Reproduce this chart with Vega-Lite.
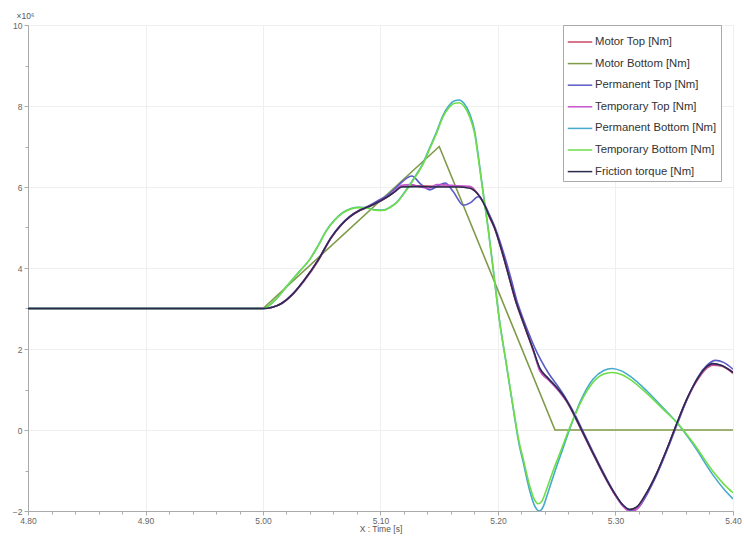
{
  "$schema": "https://vega.github.io/schema/vega-lite/v6.json",
  "width": 705,
  "height": 486,
  "autosize": {"type": "none"},
  "padding": {"left": 28, "top": 25, "right": 11, "bottom": 25},
  "background": "white",
  "config": {
    "font": "Liberation Sans",
    "view": {"stroke": "#e4e4e4"},
    "axis": {"domainColor": "#aaaaaa", "tickColor": "#aaaaaa", "labelColor": "#666666", "labelFontSize": 8.5, "titleColor": "#555555", "titleFontSize": 8.5, "titleFontWeight": "normal", "gridColor": "#efefef"}
  },
  "datasets": {
    "bottomMotor": [
      {"s": "Motor Bottom [Nm]", "t": 4.80, "v": 3},
      {"s": "Motor Bottom [Nm]", "t": 5.00, "v": 3},
      {"s": "Motor Bottom [Nm]", "t": 5.15, "v": 7},
      {"s": "Motor Bottom [Nm]", "t": 5.2485, "v": 0},
      {"s": "Motor Bottom [Nm]", "t": 5.40, "v": 0}
    ],
    "curves": [
      {"s": "Motor Top [Nm]", "t": 4.80, "v": 3},
      {"s": "Motor Top [Nm]", "t": 5.00, "v": 3},
      {"s": "Motor Top [Nm]", "t": 5.008, "v": 3.03},
      {"s": "Motor Top [Nm]", "t": 5.016, "v": 3.12},
      {"s": "Motor Top [Nm]", "t": 5.025, "v": 3.34},
      {"s": "Motor Top [Nm]", "t": 5.035, "v": 3.68},
      {"s": "Motor Top [Nm]", "t": 5.047, "v": 4.18},
      {"s": "Motor Top [Nm]", "t": 5.058, "v": 4.74},
      {"s": "Motor Top [Nm]", "t": 5.066, "v": 5.04},
      {"s": "Motor Top [Nm]", "t": 5.074, "v": 5.26},
      {"s": "Motor Top [Nm]", "t": 5.082, "v": 5.41},
      {"s": "Motor Top [Nm]", "t": 5.091, "v": 5.52},
      {"s": "Motor Top [Nm]", "t": 5.100, "v": 5.65},
      {"s": "Motor Top [Nm]", "t": 5.106, "v": 5.76},
      {"s": "Motor Top [Nm]", "t": 5.112, "v": 5.88},
      {"s": "Motor Top [Nm]", "t": 5.118, "v": 6.02},
      {"s": "Motor Top [Nm]", "t": 5.130, "v": 6.03},
      {"s": "Motor Top [Nm]", "t": 5.150, "v": 6.02},
      {"s": "Motor Top [Nm]", "t": 5.165, "v": 6.02},
      {"s": "Motor Top [Nm]", "t": 5.177, "v": 6.0},
      {"s": "Motor Top [Nm]", "t": 5.182, "v": 5.86},
      {"s": "Motor Top [Nm]", "t": 5.1875, "v": 5.62},
      {"s": "Motor Top [Nm]", "t": 5.192, "v": 5.3},
      {"s": "Motor Top [Nm]", "t": 5.197, "v": 4.98},
      {"s": "Motor Top [Nm]", "t": 5.2045, "v": 4.28},
      {"s": "Motor Top [Nm]", "t": 5.210, "v": 3.7},
      {"s": "Motor Top [Nm]", "t": 5.215, "v": 3.18},
      {"s": "Motor Top [Nm]", "t": 5.220, "v": 2.76},
      {"s": "Motor Top [Nm]", "t": 5.225, "v": 2.36},
      {"s": "Motor Top [Nm]", "t": 5.230, "v": 1.96},
      {"s": "Motor Top [Nm]", "t": 5.2357, "v": 1.48},
      {"s": "Motor Top [Nm]", "t": 5.242, "v": 1.28},
      {"s": "Motor Top [Nm]", "t": 5.250, "v": 1.03},
      {"s": "Motor Top [Nm]", "t": 5.2585, "v": 0.7},
      {"s": "Motor Top [Nm]", "t": 5.265, "v": 0.35},
      {"s": "Motor Top [Nm]", "t": 5.270, "v": 0.05},
      {"s": "Motor Top [Nm]", "t": 5.280, "v": -0.54},
      {"s": "Motor Top [Nm]", "t": 5.2925, "v": -1.25},
      {"s": "Motor Top [Nm]", "t": 5.300, "v": -1.62},
      {"s": "Motor Top [Nm]", "t": 5.306, "v": -1.86},
      {"s": "Motor Top [Nm]", "t": 5.312, "v": -1.98},
      {"s": "Motor Top [Nm]", "t": 5.318, "v": -1.92},
      {"s": "Motor Top [Nm]", "t": 5.325, "v": -1.63},
      {"s": "Motor Top [Nm]", "t": 5.335, "v": -1.08},
      {"s": "Motor Top [Nm]", "t": 5.344, "v": -0.46},
      {"s": "Motor Top [Nm]", "t": 5.352, "v": 0.14},
      {"s": "Motor Top [Nm]", "t": 5.360, "v": 0.7},
      {"s": "Motor Top [Nm]", "t": 5.369, "v": 1.2},
      {"s": "Motor Top [Nm]", "t": 5.376, "v": 1.48},
      {"s": "Motor Top [Nm]", "t": 5.383, "v": 1.6},
      {"s": "Motor Top [Nm]", "t": 5.390, "v": 1.58},
      {"s": "Motor Top [Nm]", "t": 5.400, "v": 1.4},

      {"s": "Permanent Top [Nm]", "t": 4.80, "v": 3},
      {"s": "Permanent Top [Nm]", "t": 5.00, "v": 3},
      {"s": "Permanent Top [Nm]", "t": 5.008, "v": 3.03},
      {"s": "Permanent Top [Nm]", "t": 5.016, "v": 3.13},
      {"s": "Permanent Top [Nm]", "t": 5.025, "v": 3.35},
      {"s": "Permanent Top [Nm]", "t": 5.035, "v": 3.7},
      {"s": "Permanent Top [Nm]", "t": 5.047, "v": 4.2},
      {"s": "Permanent Top [Nm]", "t": 5.058, "v": 4.76},
      {"s": "Permanent Top [Nm]", "t": 5.066, "v": 5.06},
      {"s": "Permanent Top [Nm]", "t": 5.074, "v": 5.28},
      {"s": "Permanent Top [Nm]", "t": 5.082, "v": 5.43},
      {"s": "Permanent Top [Nm]", "t": 5.091, "v": 5.55},
      {"s": "Permanent Top [Nm]", "t": 5.100, "v": 5.7},
      {"s": "Permanent Top [Nm]", "t": 5.106, "v": 5.8},
      {"s": "Permanent Top [Nm]", "t": 5.112, "v": 5.95},
      {"s": "Permanent Top [Nm]", "t": 5.119, "v": 6.14},
      {"s": "Permanent Top [Nm]", "t": 5.1266, "v": 6.27},
      {"s": "Permanent Top [Nm]", "t": 5.134, "v": 6.08},
      {"s": "Permanent Top [Nm]", "t": 5.142, "v": 5.93},
      {"s": "Permanent Top [Nm]", "t": 5.149, "v": 6.03},
      {"s": "Permanent Top [Nm]", "t": 5.155, "v": 6.1},
      {"s": "Permanent Top [Nm]", "t": 5.162, "v": 5.88},
      {"s": "Permanent Top [Nm]", "t": 5.1705, "v": 5.55},
      {"s": "Permanent Top [Nm]", "t": 5.177, "v": 5.62},
      {"s": "Permanent Top [Nm]", "t": 5.183, "v": 5.76},
      {"s": "Permanent Top [Nm]", "t": 5.188, "v": 5.6},
      {"s": "Permanent Top [Nm]", "t": 5.193, "v": 5.3},
      {"s": "Permanent Top [Nm]", "t": 5.198, "v": 4.96},
      {"s": "Permanent Top [Nm]", "t": 5.2055, "v": 4.3},
      {"s": "Permanent Top [Nm]", "t": 5.211, "v": 3.75},
      {"s": "Permanent Top [Nm]", "t": 5.216, "v": 3.2},
      {"s": "Permanent Top [Nm]", "t": 5.221, "v": 2.78},
      {"s": "Permanent Top [Nm]", "t": 5.226, "v": 2.4},
      {"s": "Permanent Top [Nm]", "t": 5.231, "v": 2.05},
      {"s": "Permanent Top [Nm]", "t": 5.237, "v": 1.7},
      {"s": "Permanent Top [Nm]", "t": 5.243, "v": 1.4},
      {"s": "Permanent Top [Nm]", "t": 5.251, "v": 1.08},
      {"s": "Permanent Top [Nm]", "t": 5.259, "v": 0.72},
      {"s": "Permanent Top [Nm]", "t": 5.266, "v": 0.35},
      {"s": "Permanent Top [Nm]", "t": 5.271, "v": 0.05},
      {"s": "Permanent Top [Nm]", "t": 5.281, "v": -0.55},
      {"s": "Permanent Top [Nm]", "t": 5.2935, "v": -1.26},
      {"s": "Permanent Top [Nm]", "t": 5.301, "v": -1.64},
      {"s": "Permanent Top [Nm]", "t": 5.307, "v": -1.88},
      {"s": "Permanent Top [Nm]", "t": 5.314, "v": -2.0},
      {"s": "Permanent Top [Nm]", "t": 5.320, "v": -1.9},
      {"s": "Permanent Top [Nm]", "t": 5.327, "v": -1.58},
      {"s": "Permanent Top [Nm]", "t": 5.336, "v": -1.05},
      {"s": "Permanent Top [Nm]", "t": 5.345, "v": -0.42},
      {"s": "Permanent Top [Nm]", "t": 5.353, "v": 0.18},
      {"s": "Permanent Top [Nm]", "t": 5.361, "v": 0.76},
      {"s": "Permanent Top [Nm]", "t": 5.370, "v": 1.3},
      {"s": "Permanent Top [Nm]", "t": 5.378, "v": 1.6},
      {"s": "Permanent Top [Nm]", "t": 5.385, "v": 1.72},
      {"s": "Permanent Top [Nm]", "t": 5.392, "v": 1.67},
      {"s": "Permanent Top [Nm]", "t": 5.400, "v": 1.5},

      {"s": "Temporary Top [Nm]", "t": 4.80, "v": 3},
      {"s": "Temporary Top [Nm]", "t": 5.00, "v": 3},
      {"s": "Temporary Top [Nm]", "t": 5.008, "v": 3.03},
      {"s": "Temporary Top [Nm]", "t": 5.016, "v": 3.13},
      {"s": "Temporary Top [Nm]", "t": 5.025, "v": 3.35},
      {"s": "Temporary Top [Nm]", "t": 5.035, "v": 3.7},
      {"s": "Temporary Top [Nm]", "t": 5.047, "v": 4.2},
      {"s": "Temporary Top [Nm]", "t": 5.058, "v": 4.75},
      {"s": "Temporary Top [Nm]", "t": 5.066, "v": 5.05},
      {"s": "Temporary Top [Nm]", "t": 5.074, "v": 5.27},
      {"s": "Temporary Top [Nm]", "t": 5.082, "v": 5.42},
      {"s": "Temporary Top [Nm]", "t": 5.091, "v": 5.53},
      {"s": "Temporary Top [Nm]", "t": 5.100, "v": 5.66},
      {"s": "Temporary Top [Nm]", "t": 5.106, "v": 5.77},
      {"s": "Temporary Top [Nm]", "t": 5.112, "v": 5.9},
      {"s": "Temporary Top [Nm]", "t": 5.118, "v": 6.04},
      {"s": "Temporary Top [Nm]", "t": 5.126, "v": 6.06},
      {"s": "Temporary Top [Nm]", "t": 5.134, "v": 6.0},
      {"s": "Temporary Top [Nm]", "t": 5.141, "v": 5.97},
      {"s": "Temporary Top [Nm]", "t": 5.148, "v": 6.06},
      {"s": "Temporary Top [Nm]", "t": 5.156, "v": 6.05},
      {"s": "Temporary Top [Nm]", "t": 5.165, "v": 6.03},
      {"s": "Temporary Top [Nm]", "t": 5.176, "v": 6.02},
      {"s": "Temporary Top [Nm]", "t": 5.182, "v": 5.86},
      {"s": "Temporary Top [Nm]", "t": 5.1875, "v": 5.63},
      {"s": "Temporary Top [Nm]", "t": 5.192, "v": 5.32},
      {"s": "Temporary Top [Nm]", "t": 5.197, "v": 5.0},
      {"s": "Temporary Top [Nm]", "t": 5.2045, "v": 4.3},
      {"s": "Temporary Top [Nm]", "t": 5.210, "v": 3.72},
      {"s": "Temporary Top [Nm]", "t": 5.215, "v": 3.2},
      {"s": "Temporary Top [Nm]", "t": 5.220, "v": 2.78},
      {"s": "Temporary Top [Nm]", "t": 5.225, "v": 2.38},
      {"s": "Temporary Top [Nm]", "t": 5.230, "v": 1.98},
      {"s": "Temporary Top [Nm]", "t": 5.2357, "v": 1.45},
      {"s": "Temporary Top [Nm]", "t": 5.242, "v": 1.26},
      {"s": "Temporary Top [Nm]", "t": 5.250, "v": 1.02},
      {"s": "Temporary Top [Nm]", "t": 5.2585, "v": 0.7},
      {"s": "Temporary Top [Nm]", "t": 5.265, "v": 0.36},
      {"s": "Temporary Top [Nm]", "t": 5.270, "v": 0.06},
      {"s": "Temporary Top [Nm]", "t": 5.280, "v": -0.53},
      {"s": "Temporary Top [Nm]", "t": 5.2925, "v": -1.24},
      {"s": "Temporary Top [Nm]", "t": 5.300, "v": -1.62},
      {"s": "Temporary Top [Nm]", "t": 5.306, "v": -1.87},
      {"s": "Temporary Top [Nm]", "t": 5.313, "v": -2.02},
      {"s": "Temporary Top [Nm]", "t": 5.319, "v": -1.93},
      {"s": "Temporary Top [Nm]", "t": 5.325, "v": -1.64},
      {"s": "Temporary Top [Nm]", "t": 5.335, "v": -1.07},
      {"s": "Temporary Top [Nm]", "t": 5.344, "v": -0.45},
      {"s": "Temporary Top [Nm]", "t": 5.352, "v": 0.15},
      {"s": "Temporary Top [Nm]", "t": 5.360, "v": 0.72},
      {"s": "Temporary Top [Nm]", "t": 5.369, "v": 1.22},
      {"s": "Temporary Top [Nm]", "t": 5.376, "v": 1.5},
      {"s": "Temporary Top [Nm]", "t": 5.383, "v": 1.62},
      {"s": "Temporary Top [Nm]", "t": 5.390, "v": 1.59},
      {"s": "Temporary Top [Nm]", "t": 5.400, "v": 1.43},

      {"s": "Permanent Bottom [Nm]", "t": 4.80, "v": 3},
      {"s": "Permanent Bottom [Nm]", "t": 5.00, "v": 3},
      {"s": "Permanent Bottom [Nm]", "t": 5.010, "v": 3.2},
      {"s": "Permanent Bottom [Nm]", "t": 5.020, "v": 3.54},
      {"s": "Permanent Bottom [Nm]", "t": 5.030, "v": 3.88},
      {"s": "Permanent Bottom [Nm]", "t": 5.040, "v": 4.22},
      {"s": "Permanent Bottom [Nm]", "t": 5.047, "v": 4.56},
      {"s": "Permanent Bottom [Nm]", "t": 5.054, "v": 4.93},
      {"s": "Permanent Bottom [Nm]", "t": 5.061, "v": 5.19},
      {"s": "Permanent Bottom [Nm]", "t": 5.068, "v": 5.37},
      {"s": "Permanent Bottom [Nm]", "t": 5.075, "v": 5.47},
      {"s": "Permanent Bottom [Nm]", "t": 5.081, "v": 5.5},
      {"s": "Permanent Bottom [Nm]", "t": 5.088, "v": 5.49},
      {"s": "Permanent Bottom [Nm]", "t": 5.095, "v": 5.44},
      {"s": "Permanent Bottom [Nm]", "t": 5.102, "v": 5.43},
      {"s": "Permanent Bottom [Nm]", "t": 5.108, "v": 5.5},
      {"s": "Permanent Bottom [Nm]", "t": 5.114, "v": 5.63},
      {"s": "Permanent Bottom [Nm]", "t": 5.122, "v": 5.93},
      {"s": "Permanent Bottom [Nm]", "t": 5.129, "v": 6.24},
      {"s": "Permanent Bottom [Nm]", "t": 5.136, "v": 6.58},
      {"s": "Permanent Bottom [Nm]", "t": 5.142, "v": 6.98},
      {"s": "Permanent Bottom [Nm]", "t": 5.148, "v": 7.38},
      {"s": "Permanent Bottom [Nm]", "t": 5.153, "v": 7.76},
      {"s": "Permanent Bottom [Nm]", "t": 5.158, "v": 8.0},
      {"s": "Permanent Bottom [Nm]", "t": 5.163, "v": 8.13},
      {"s": "Permanent Bottom [Nm]", "t": 5.167, "v": 8.15},
      {"s": "Permanent Bottom [Nm]", "t": 5.171, "v": 8.07},
      {"s": "Permanent Bottom [Nm]", "t": 5.176, "v": 7.8},
      {"s": "Permanent Bottom [Nm]", "t": 5.180, "v": 7.4},
      {"s": "Permanent Bottom [Nm]", "t": 5.1847, "v": 6.45},
      {"s": "Permanent Bottom [Nm]", "t": 5.188, "v": 5.74},
      {"s": "Permanent Bottom [Nm]", "t": 5.1917, "v": 4.97},
      {"s": "Permanent Bottom [Nm]", "t": 5.1974, "v": 3.62},
      {"s": "Permanent Bottom [Nm]", "t": 5.201, "v": 2.76},
      {"s": "Permanent Bottom [Nm]", "t": 5.207, "v": 1.64},
      {"s": "Permanent Bottom [Nm]", "t": 5.213, "v": 0.52},
      {"s": "Permanent Bottom [Nm]", "t": 5.218, "v": -0.36},
      {"s": "Permanent Bottom [Nm]", "t": 5.2215, "v": -0.8},
      {"s": "Permanent Bottom [Nm]", "t": 5.227, "v": -1.5},
      {"s": "Permanent Bottom [Nm]", "t": 5.231, "v": -1.86},
      {"s": "Permanent Bottom [Nm]", "t": 5.235, "v": -2.0},
      {"s": "Permanent Bottom [Nm]", "t": 5.238, "v": -1.92},
      {"s": "Permanent Bottom [Nm]", "t": 5.2425, "v": -1.55},
      {"s": "Permanent Bottom [Nm]", "t": 5.248, "v": -1.06},
      {"s": "Permanent Bottom [Nm]", "t": 5.254, "v": -0.56},
      {"s": "Permanent Bottom [Nm]", "t": 5.262, "v": 0.1},
      {"s": "Permanent Bottom [Nm]", "t": 5.270, "v": 0.7},
      {"s": "Permanent Bottom [Nm]", "t": 5.281, "v": 1.26},
      {"s": "Permanent Bottom [Nm]", "t": 5.290, "v": 1.47},
      {"s": "Permanent Bottom [Nm]", "t": 5.297, "v": 1.52},
      {"s": "Permanent Bottom [Nm]", "t": 5.305, "v": 1.46},
      {"s": "Permanent Bottom [Nm]", "t": 5.3123, "v": 1.33},
      {"s": "Permanent Bottom [Nm]", "t": 5.3265, "v": 0.97},
      {"s": "Permanent Bottom [Nm]", "t": 5.3407, "v": 0.54},
      {"s": "Permanent Bottom [Nm]", "t": 5.352, "v": 0.19},
      {"s": "Permanent Bottom [Nm]", "t": 5.3662, "v": -0.36},
      {"s": "Permanent Bottom [Nm]", "t": 5.3832, "v": -1.12},
      {"s": "Permanent Bottom [Nm]", "t": 5.392, "v": -1.45},
      {"s": "Permanent Bottom [Nm]", "t": 5.400, "v": -1.7},

      {"s": "Temporary Bottom [Nm]", "t": 4.80, "v": 3},
      {"s": "Temporary Bottom [Nm]", "t": 5.00, "v": 3},
      {"s": "Temporary Bottom [Nm]", "t": 5.010, "v": 3.2},
      {"s": "Temporary Bottom [Nm]", "t": 5.020, "v": 3.54},
      {"s": "Temporary Bottom [Nm]", "t": 5.030, "v": 3.88},
      {"s": "Temporary Bottom [Nm]", "t": 5.040, "v": 4.22},
      {"s": "Temporary Bottom [Nm]", "t": 5.047, "v": 4.55},
      {"s": "Temporary Bottom [Nm]", "t": 5.054, "v": 4.92},
      {"s": "Temporary Bottom [Nm]", "t": 5.061, "v": 5.18},
      {"s": "Temporary Bottom [Nm]", "t": 5.068, "v": 5.36},
      {"s": "Temporary Bottom [Nm]", "t": 5.075, "v": 5.46},
      {"s": "Temporary Bottom [Nm]", "t": 5.081, "v": 5.49},
      {"s": "Temporary Bottom [Nm]", "t": 5.088, "v": 5.48},
      {"s": "Temporary Bottom [Nm]", "t": 5.095, "v": 5.43},
      {"s": "Temporary Bottom [Nm]", "t": 5.102, "v": 5.42},
      {"s": "Temporary Bottom [Nm]", "t": 5.108, "v": 5.49},
      {"s": "Temporary Bottom [Nm]", "t": 5.114, "v": 5.62},
      {"s": "Temporary Bottom [Nm]", "t": 5.122, "v": 5.92},
      {"s": "Temporary Bottom [Nm]", "t": 5.129, "v": 6.22},
      {"s": "Temporary Bottom [Nm]", "t": 5.136, "v": 6.55},
      {"s": "Temporary Bottom [Nm]", "t": 5.142, "v": 6.95},
      {"s": "Temporary Bottom [Nm]", "t": 5.148, "v": 7.35},
      {"s": "Temporary Bottom [Nm]", "t": 5.153, "v": 7.72},
      {"s": "Temporary Bottom [Nm]", "t": 5.158, "v": 7.95},
      {"s": "Temporary Bottom [Nm]", "t": 5.163, "v": 8.07},
      {"s": "Temporary Bottom [Nm]", "t": 5.167, "v": 8.08},
      {"s": "Temporary Bottom [Nm]", "t": 5.171, "v": 8.0},
      {"s": "Temporary Bottom [Nm]", "t": 5.176, "v": 7.72},
      {"s": "Temporary Bottom [Nm]", "t": 5.180, "v": 7.33},
      {"s": "Temporary Bottom [Nm]", "t": 5.1847, "v": 6.4},
      {"s": "Temporary Bottom [Nm]", "t": 5.188, "v": 5.7},
      {"s": "Temporary Bottom [Nm]", "t": 5.1917, "v": 4.94},
      {"s": "Temporary Bottom [Nm]", "t": 5.1974, "v": 3.6},
      {"s": "Temporary Bottom [Nm]", "t": 5.201, "v": 2.75},
      {"s": "Temporary Bottom [Nm]", "t": 5.207, "v": 1.65},
      {"s": "Temporary Bottom [Nm]", "t": 5.213, "v": 0.55},
      {"s": "Temporary Bottom [Nm]", "t": 5.218, "v": -0.3},
      {"s": "Temporary Bottom [Nm]", "t": 5.2215, "v": -0.72},
      {"s": "Temporary Bottom [Nm]", "t": 5.227, "v": -1.38},
      {"s": "Temporary Bottom [Nm]", "t": 5.231, "v": -1.72},
      {"s": "Temporary Bottom [Nm]", "t": 5.234, "v": -1.82},
      {"s": "Temporary Bottom [Nm]", "t": 5.237, "v": -1.77},
      {"s": "Temporary Bottom [Nm]", "t": 5.2415, "v": -1.45},
      {"s": "Temporary Bottom [Nm]", "t": 5.247, "v": -1.0},
      {"s": "Temporary Bottom [Nm]", "t": 5.253, "v": -0.55},
      {"s": "Temporary Bottom [Nm]", "t": 5.2613, "v": 0.08},
      {"s": "Temporary Bottom [Nm]", "t": 5.270, "v": 0.66},
      {"s": "Temporary Bottom [Nm]", "t": 5.281, "v": 1.18},
      {"s": "Temporary Bottom [Nm]", "t": 5.290, "v": 1.38},
      {"s": "Temporary Bottom [Nm]", "t": 5.297, "v": 1.42},
      {"s": "Temporary Bottom [Nm]", "t": 5.305, "v": 1.37},
      {"s": "Temporary Bottom [Nm]", "t": 5.3123, "v": 1.25},
      {"s": "Temporary Bottom [Nm]", "t": 5.3265, "v": 0.91},
      {"s": "Temporary Bottom [Nm]", "t": 5.3407, "v": 0.51},
      {"s": "Temporary Bottom [Nm]", "t": 5.352, "v": 0.19},
      {"s": "Temporary Bottom [Nm]", "t": 5.3662, "v": -0.32},
      {"s": "Temporary Bottom [Nm]", "t": 5.3832, "v": -1.03},
      {"s": "Temporary Bottom [Nm]", "t": 5.392, "v": -1.33},
      {"s": "Temporary Bottom [Nm]", "t": 5.400, "v": -1.55},

      {"s": "Friction torque [Nm]", "t": 4.80, "v": 3},
      {"s": "Friction torque [Nm]", "t": 5.00, "v": 3},
      {"s": "Friction torque [Nm]", "t": 5.008, "v": 3.03},
      {"s": "Friction torque [Nm]", "t": 5.016, "v": 3.13},
      {"s": "Friction torque [Nm]", "t": 5.025, "v": 3.35},
      {"s": "Friction torque [Nm]", "t": 5.035, "v": 3.7},
      {"s": "Friction torque [Nm]", "t": 5.047, "v": 4.2},
      {"s": "Friction torque [Nm]", "t": 5.058, "v": 4.75},
      {"s": "Friction torque [Nm]", "t": 5.066, "v": 5.05},
      {"s": "Friction torque [Nm]", "t": 5.074, "v": 5.27},
      {"s": "Friction torque [Nm]", "t": 5.082, "v": 5.42},
      {"s": "Friction torque [Nm]", "t": 5.091, "v": 5.53},
      {"s": "Friction torque [Nm]", "t": 5.100, "v": 5.66},
      {"s": "Friction torque [Nm]", "t": 5.106, "v": 5.76},
      {"s": "Friction torque [Nm]", "t": 5.112, "v": 5.88},
      {"s": "Friction torque [Nm]", "t": 5.118, "v": 6.0},
      {"s": "Friction torque [Nm]", "t": 5.130, "v": 6.01},
      {"s": "Friction torque [Nm]", "t": 5.150, "v": 6.0},
      {"s": "Friction torque [Nm]", "t": 5.165, "v": 6.0},
      {"s": "Friction torque [Nm]", "t": 5.176, "v": 5.97},
      {"s": "Friction torque [Nm]", "t": 5.182, "v": 5.85},
      {"s": "Friction torque [Nm]", "t": 5.1875, "v": 5.62},
      {"s": "Friction torque [Nm]", "t": 5.192, "v": 5.32},
      {"s": "Friction torque [Nm]", "t": 5.197, "v": 5.0},
      {"s": "Friction torque [Nm]", "t": 5.2045, "v": 4.3},
      {"s": "Friction torque [Nm]", "t": 5.210, "v": 3.72},
      {"s": "Friction torque [Nm]", "t": 5.215, "v": 3.2},
      {"s": "Friction torque [Nm]", "t": 5.220, "v": 2.78},
      {"s": "Friction torque [Nm]", "t": 5.225, "v": 2.38},
      {"s": "Friction torque [Nm]", "t": 5.230, "v": 1.98},
      {"s": "Friction torque [Nm]", "t": 5.2357, "v": 1.52},
      {"s": "Friction torque [Nm]", "t": 5.242, "v": 1.3},
      {"s": "Friction torque [Nm]", "t": 5.250, "v": 1.05},
      {"s": "Friction torque [Nm]", "t": 5.2585, "v": 0.72},
      {"s": "Friction torque [Nm]", "t": 5.265, "v": 0.37},
      {"s": "Friction torque [Nm]", "t": 5.270, "v": 0.07},
      {"s": "Friction torque [Nm]", "t": 5.280, "v": -0.52},
      {"s": "Friction torque [Nm]", "t": 5.2925, "v": -1.23},
      {"s": "Friction torque [Nm]", "t": 5.300, "v": -1.6},
      {"s": "Friction torque [Nm]", "t": 5.306, "v": -1.84},
      {"s": "Friction torque [Nm]", "t": 5.312, "v": -1.96},
      {"s": "Friction torque [Nm]", "t": 5.318, "v": -1.9},
      {"s": "Friction torque [Nm]", "t": 5.325, "v": -1.62},
      {"s": "Friction torque [Nm]", "t": 5.335, "v": -1.07},
      {"s": "Friction torque [Nm]", "t": 5.344, "v": -0.45},
      {"s": "Friction torque [Nm]", "t": 5.352, "v": 0.15},
      {"s": "Friction torque [Nm]", "t": 5.360, "v": 0.72},
      {"s": "Friction torque [Nm]", "t": 5.369, "v": 1.23},
      {"s": "Friction torque [Nm]", "t": 5.376, "v": 1.52},
      {"s": "Friction torque [Nm]", "t": 5.383, "v": 1.64},
      {"s": "Friction torque [Nm]", "t": 5.390, "v": 1.6},
      {"s": "Friction torque [Nm]", "t": 5.400, "v": 1.42}
    ]
  },
  "encoding": {
    "x": {
      "field": "t", "type": "quantitative",
      "scale": {"domain": [4.8, 5.4], "nice": false, "zero": false},
      "axis": {
        "title": "X : Time [s]",
        "titlePadding": 0,
        "values": [4.8, 4.82, 4.84, 4.86, 4.88, 4.9, 4.92, 4.94, 4.96, 4.98, 5.0, 5.02, 5.04, 5.06, 5.08, 5.1, 5.12, 5.14, 5.16, 5.18, 5.2, 5.22, 5.24, 5.26, 5.28, 5.3, 5.32, 5.34, 5.36, 5.38, 5.4],
        "labelExpr": "abs(round(datum.value*50) % 5) == 0 ? format(datum.value, '.2f') : ''",
        "tickSize": {"condition": {"test": "abs(round(datum.value*50) % 5) == 0", "value": 4}, "value": 3},
        "gridOpacity": {"condition": {"test": "abs(round(datum.value*50) % 5) == 0", "value": 1}, "value": 0},
        "labelPadding": 1,
        "labelFlush": false,
        "labelOverlap": false
      }
    },
    "y": {
      "field": "v", "type": "quantitative",
      "scale": {"domain": [-2, 10], "nice": false, "zero": false},
      "axis": {
        "title": "×10⁶",
        "titleAngle": 0,
        "titleAlign": "left",
        "titleBaseline": "bottom",
        "titleX": -12,
        "titleY": -5,
        "values": [-2, -1, 0, 1, 2, 3, 4, 5, 6, 7, 8, 9, 10],
        "labelExpr": "abs(datum.value % 2) == 0 ? format(datum.value, 'd') : ''",
        "tickSize": {"condition": {"test": "abs(datum.value % 2) == 0", "value": 4}, "value": 3},
        "gridOpacity": {"condition": {"test": "abs(datum.value % 2) == 0", "value": 1}, "value": 0},
        "labelPadding": 2,
        "labelFlush": false,
        "labelOverlap": false
      }
    },
    "color": {
      "field": "s", "type": "nominal",
      "scale": {
        "domain": ["Motor Top [Nm]", "Motor Bottom [Nm]", "Permanent Top [Nm]", "Temporary Top [Nm]", "Permanent Bottom [Nm]", "Temporary Bottom [Nm]", "Friction torque [Nm]"],
        "range": ["#c84a64", "#7f9a48", "#5a5ac8", "#c455cc", "#45aacc", "#6ede48", "#2a2a4e"]
      },
      "legend": {
        "title": null,
        "orient": "none",
        "legendX": 535,
        "legendY": 0,
        "symbolType": "stroke",
        "symbolSize": 600,
        "symbolStrokeWidth": 1.5,
        "labelFontSize": 11.3,
        "labelColor": "#333333",
        "labelOffset": 2,
        "rowPadding": 2.6,
        "padding": 4,
        "fillColor": "white",
        "strokeColor": "#aaaaaa",
        "cornerRadius": 0,
        "labelLimit": 200
      }
    }
  },
  "layer": [
    {"data": {"name": "bottomMotor"}, "mark": {"type": "line", "strokeWidth": 1.6, "clip": true}},
    {"data": {"name": "curves"}, "mark": {"type": "line", "strokeWidth": 1.6, "interpolate": "monotone", "clip": true}}
  ]
}
